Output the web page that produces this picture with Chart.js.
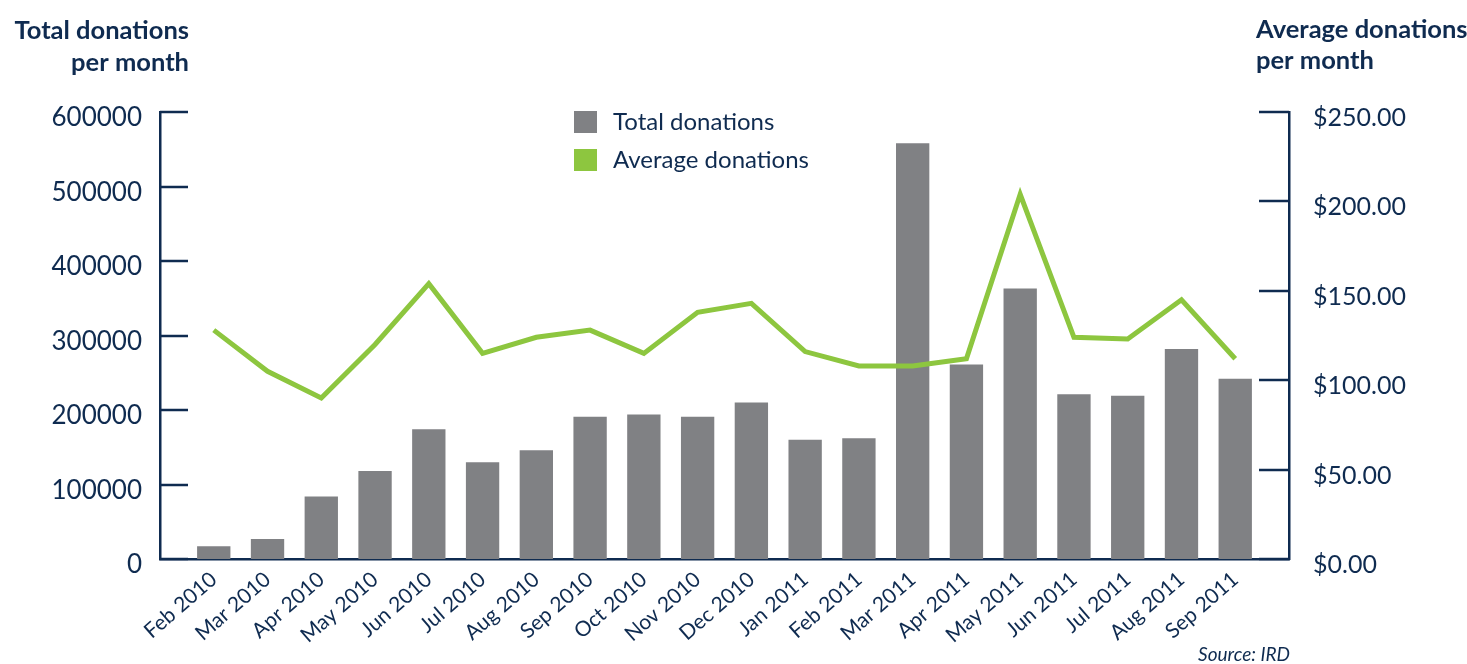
<!DOCTYPE html>
<html>
<head>
<meta charset="utf-8">
<title>Donations per month</title>
<script src="https://cdn.jsdelivr.net/npm/chart.js@4.4.1/dist/chart.umd.min.js"></script>
<style>
  body { margin: 0; background: #ffffff; }
  canvas { display: block; }
</style>
</head>
<body>
<canvas id="donationsChart" width="1467" height="664"></canvas>
<script>
// Monthly donation figures
const months = [
  "Feb 2010", "Mar 2010", "Apr 2010", "May 2010", "Jun 2010", "Jul 2010",
  "Aug 2010", "Sep 2010", "Oct 2010", "Nov 2010", "Dec 2010", "Jan 2011",
  "Feb 2011", "Mar 2011", "Apr 2011", "May 2011", "Jun 2011", "Jul 2011",
  "Aug 2011", "Sep 2011"
];
const totalDonations = [
  17000, 27000, 84000, 118000, 174000, 130000, 146000, 191000, 194000, 191000,
  210000, 160000, 162000, 558000, 261000, 363000, 221000, 219000, 282000, 242000
];
const averageDonations = [
  128, 105, 90, 120, 154, 115, 124, 128, 115, 138,
  143, 116, 108, 108, 112, 204, 124, 123, 145, 112
];
const totalTicks = [0, 100000, 200000, 300000, 400000, 500000, 600000];
const averageTicks = [0, 50, 100, 150, 200, 250];

const NAVY = "#0f2b50";
const GREY = "#808184";
const GREEN = "#8dc63f";
const FONT = "Lato, 'Open Sans', sans-serif";

// empty slot at each end so the first and last months sit inside the axes
const labels = ["", ...months, ""];
const pad = (arr) => [null, ...arr, null];

// short tick marks pointing into the plot area
const innerTicks = {
  id: "innerTicks",
  afterDraw(chart) {
    const ctx = chart.ctx;
    const { left, right } = chart.chartArea;
    ctx.save();
    ctx.strokeStyle = NAVY;
    ctx.lineWidth = 2.5;
    chart.scales.y.ticks.forEach((t) => {
      const y = Math.round(chart.scales.y.getPixelForValue(t.value));
      ctx.beginPath();
      ctx.moveTo(left, y);
      ctx.lineTo(left + 28, y);
      ctx.stroke();
    });
    chart.scales.y1.ticks.forEach((t) => {
      const y = Math.round(chart.scales.y1.getPixelForValue(t.value));
      ctx.beginPath();
      ctx.moveTo(right - 30, y);
      ctx.lineTo(right, y);
      ctx.stroke();
    });
    ctx.restore();
  },
};

// axis titles, legend and source note
const annotations = {
  id: "annotations",
  afterDraw(chart) {
    const ctx = chart.ctx;
    ctx.save();
    ctx.fillStyle = NAVY;
    ctx.textBaseline = "middle";

    ctx.font = "bold 25.5px " + FONT;
    ctx.textAlign = "right";
    ctx.fillText("Total donations", 189, 31);
    ctx.fillText("per month", 189, 63);
    ctx.textAlign = "left";
    ctx.fillText("Average donations", 1256, 30);
    ctx.fillText("per month", 1256, 61);

    ctx.font = "24px " + FONT;
    chart.data.datasets.forEach((ds, i) => {
      const y = 122 + i * 38;
      ctx.fillStyle = ds.type === "line" ? ds.borderColor : ds.backgroundColor;
      ctx.fillRect(574, y - 11, 23, 22);
      ctx.fillStyle = NAVY;
      ctx.fillText(ds.label, 613, y);
    });

    ctx.font = "italic 19px " + FONT;
    ctx.textAlign = "right";
    ctx.fillText("Source: IRD", 1290, 655);
    ctx.restore();
  },
};

const ctx = document.getElementById("donationsChart").getContext("2d");
new Chart(ctx, {
  type: "bar",
  data: {
    labels: labels,
    datasets: [
      {
        type: "bar",
        label: "Total donations",
        data: pad(totalDonations),
        yAxisID: "y",
        backgroundColor: GREY,
        categoryPercentage: 0.62,
        barPercentage: 1,
        order: 1,
      },
      {
        type: "line",
        label: "Average donations",
        data: pad(averageDonations),
        yAxisID: "y1",
        borderColor: GREEN,
        borderWidth: 5,
        pointRadius: 0,
        tension: 0,
        fill: false,
        order: 0,
      },
    ],
  },
  options: {
    responsive: false,
    animation: false,
    layout: { padding: { top: 112, left: 0, right: 0, bottom: 0 } },
    plugins: {
      legend: { display: false },
      tooltip: { enabled: false },
    },
    scales: {
      x: {
        offset: false,
        grid: { display: false, drawTicks: false },
        border: { display: true, color: NAVY, width: 2.5 },
        ticks: {
          autoSkip: false,
          maxRotation: 41,
          minRotation: 41,
          padding: 8,
          color: NAVY,
          font: { family: FONT, size: 21 },
        },
        afterFit(scale) { scale.height = 105; },
      },
      y: {
        position: "left",
        min: 0,
        max: 600000,
        grid: { display: false, drawTicks: false },
        border: { display: true, color: NAVY, width: 2.5 },
        afterBuildTicks(scale) {
          scale.ticks = totalTicks.map((v) => ({ value: v }));
        },
        ticks: {
          padding: 18,
          labelOffset: 6,
          color: NAVY,
          font: { family: FONT, size: 26 },
          callback: (v) => String(v),
        },
        afterFit(scale) { scale.width = 160; },
      },
      y1: {
        position: "right",
        min: 0,
        max: 250,
        grid: { display: false, drawTicks: false },
        border: { display: true, color: NAVY, width: 2.5 },
        afterBuildTicks(scale) {
          scale.ticks = averageTicks.map((v) => ({ value: v }));
        },
        ticks: {
          padding: 24,
          labelOffset: 6,
          color: NAVY,
          font: { family: FONT, size: 25 },
          callback: (v) => "$" + Number(v).toFixed(2),
        },
        afterFit(scale) { scale.width = 178; },
      },
    },
  },
  plugins: [innerTicks, annotations],
});
</script>
</body>
</html>
